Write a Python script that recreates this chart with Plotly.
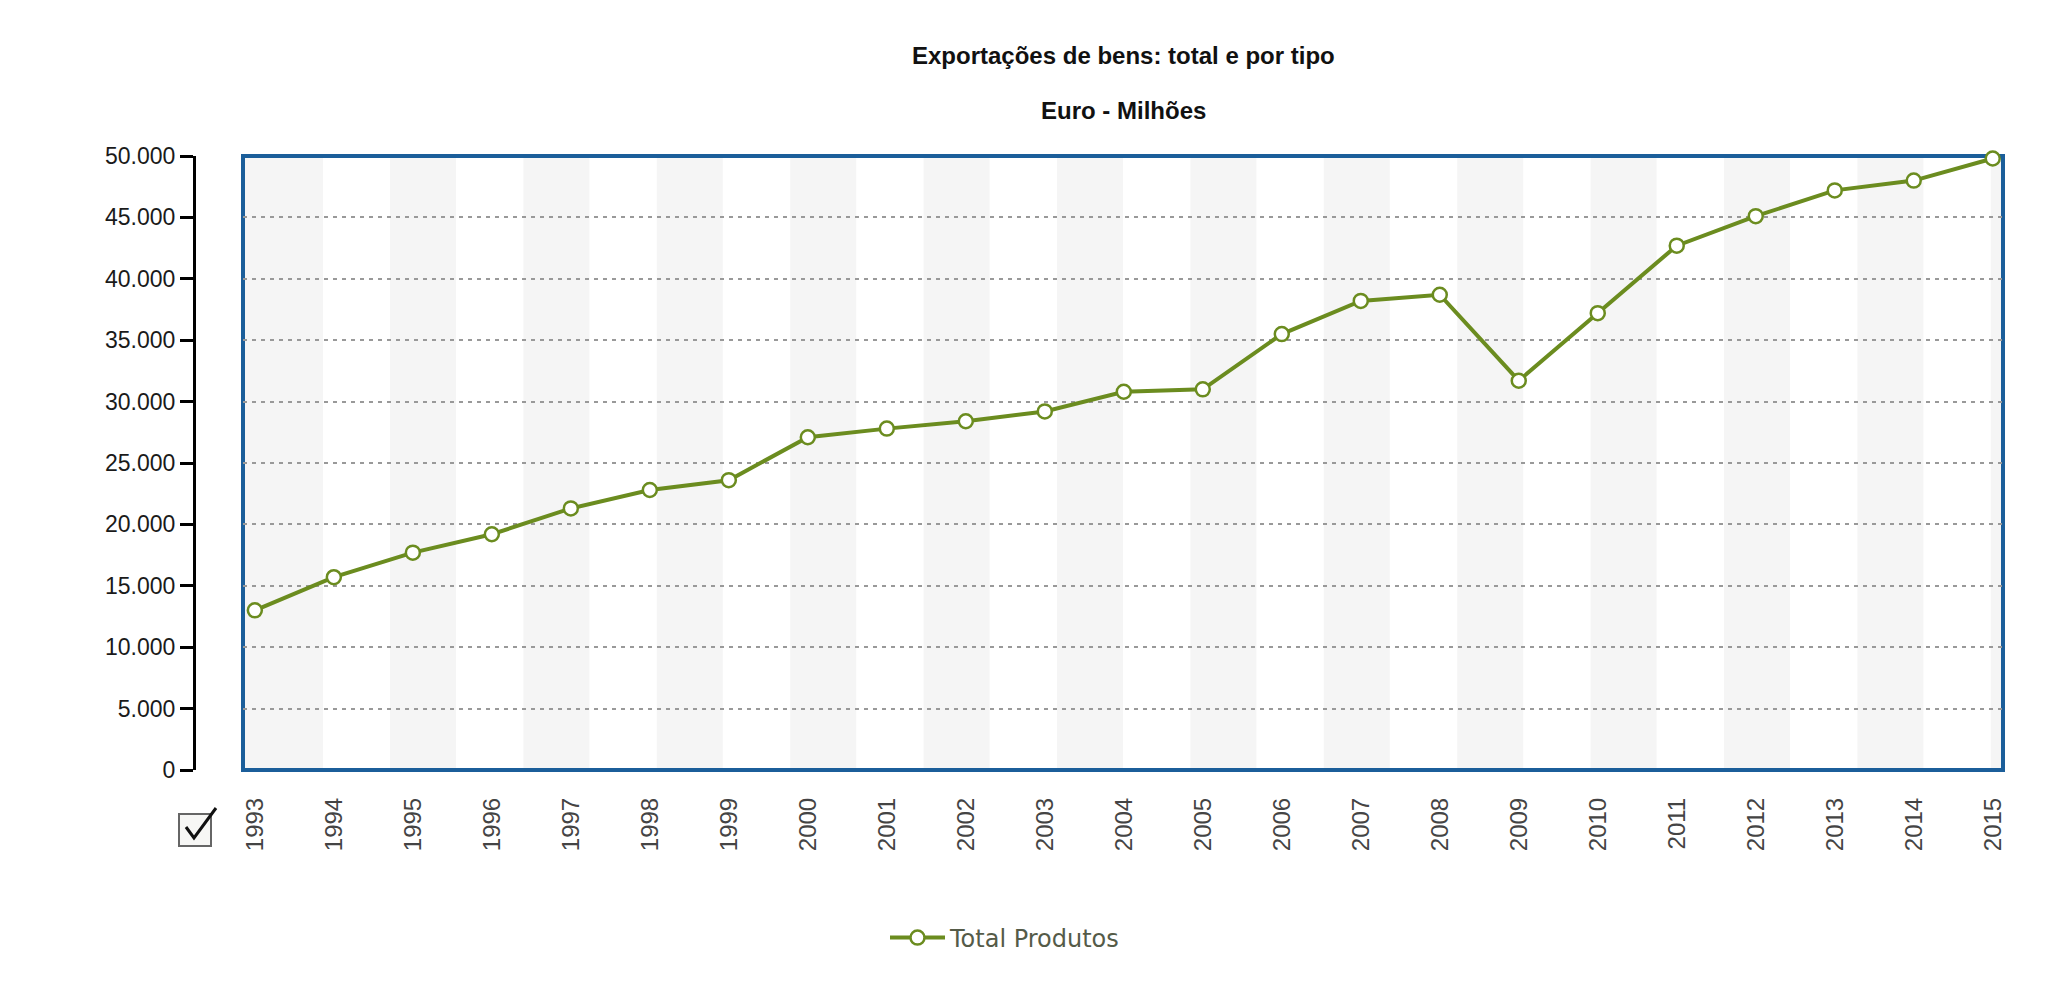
import plotly.graph_objects as go

# ---- data ----
years = list(range(1993, 2016))
total_produtos = [13000, 15700, 17700, 19200, 21300, 22800, 23600, 27100, 27800, 28400,
                  29200, 30800, 31000, 35500, 38200, 38700, 31700, 37200, 42700, 45100,
                  47200, 48000, 49800]
y_ticks = list(range(0, 50001, 5000))
inner_grid = list(range(5000, 50000, 5000))
title_text = "Exportações de bens: total e por tipo"
subtitle_text = "Euro - Milhões"
series_name = "Total Produtos"

# ---- layout geometry (pixels) ----
W, H = 2048, 1001
ML, MR, MT, MB = 100, 45, 156, 231
FRAME_L = 243
PW = W - ML - MR
PH = H - MT - MB

def px_x(px):
    return (px - ML) / PW

def px_y(py):
    return (H - MB - py) / PH

GREEN = "#6b8c1f"
BLUE = "#1b5e9a"
FONT = "Liberation Sans, Arial, sans-serif"

fig = go.Figure()
fig.add_trace(go.Scatter(
    x=years, y=total_produtos, name=series_name, mode="lines+markers",
    line=dict(color=GREEN, width=4),
    marker=dict(size=14, color="white", line=dict(color=GREEN, width=2.5)),
    cliponaxis=False, showlegend=True,
))

shapes = []
# alternating background bands (decorative), in x-domain fraction
band_period = 133.4 / (2003 - FRAME_L)
band_width = 66.0 / (2003 - FRAME_L)
first_band = (390 - FRAME_L) / (2003 - FRAME_L)
shapes.append(dict(type="rect", xref="x domain", yref="y domain", x0=0, x1=(323 - FRAME_L) / (2003 - FRAME_L),
                   y0=0, y1=1, fillcolor="#f5f5f5", line=dict(width=0), layer="below"))
i = 0
while True:
    x0 = first_band + i * band_period
    if x0 >= 1:
        break
    shapes.append(dict(type="rect", xref="x domain", yref="y domain", x0=x0, x1=min(1, x0 + band_width),
                       y0=0, y1=1, fillcolor="#f5f5f5", line=dict(width=0), layer="below"))
    i += 1
# plot frame
shapes.append(dict(type="rect", xref="x domain", yref="y domain", x0=0, x1=1, y0=0, y1=1,
                   line=dict(color=BLUE, width=4), fillcolor="rgba(0,0,0,0)", layer="below"))
# checkbox icon
shapes.append(dict(type="rect", xref="paper", yref="paper",
                   x0=px_x(179), x1=px_x(211), y0=px_y(846), y1=px_y(814),
                   line=dict(color="#666666", width=2), fillcolor="#f7f7f5"))
shapes.append(dict(type="path", xref="paper", yref="paper",
                   path=f"M {px_x(186)} {px_y(827)} L {px_x(194)} {px_y(838)} L {px_x(216)} {px_y(808)}",
                   line=dict(color="#111111", width=3)))

fig.update_layout(
    width=W, height=H,
    margin=dict(l=ML, r=MR, t=MT, b=MB, pad=0),
    paper_bgcolor="white", plot_bgcolor="white",
    separators=",.",
    font=dict(family=FONT, size=23, color="#222222"),
    shapes=shapes,
    xaxis=dict(
        domain=[px_x(FRAME_L), 1], range=[1992.85, 2015.13],
        tickvals=years, ticktext=[str(y) for y in years], tickangle=-90,
        showgrid=False, zeroline=False, showline=False, ticks="",
        tickfont=dict(family=FONT, size=24, color="#444444"),
        ticklabelstandoff=22, fixedrange=True,
    ),
    yaxis=dict(
        anchor="free", position=px_x(194), range=[0, 50000],
        tickvals=y_ticks, tickformat=",d",
        showline=True, linecolor="black", linewidth=3,
        ticks="outside", ticklen=13, tickwidth=3, tickcolor="black",
        tickfont=dict(family=FONT, size=23, color="#1a1a1a"),
        showgrid=False, zeroline=False,
        minor=dict(tickvals=inner_grid, showgrid=True, gridcolor="#999999",
                   gridwidth=2, griddash="4px,5px", ticks=""),
        fixedrange=True,
    ),
    legend=dict(orientation="h", x=px_x(885), xanchor="left", y=px_y(938), yanchor="middle",
                itemwidth=55,
                font=dict(family="DejaVu Sans, Verdana, sans-serif", size=24, color="#555b48"),
                bgcolor="rgba(0,0,0,0)"),
    annotations=[
        dict(text=f"<b>{title_text}</b>", xref="x domain", yref="paper", x=0.5, y=px_y(56),
             showarrow=False, xanchor="center", yanchor="middle",
             font=dict(family=FONT, size=24, color="#111111")),
        dict(text=f"<b>{subtitle_text}</b>", xref="x domain", yref="paper", x=0.5, y=px_y(111),
             showarrow=False, xanchor="center", yanchor="middle",
             font=dict(family=FONT, size=24, color="#111111")),
    ],
)

fig.write_html("out.html", config={"displayModeBar": False},
               post_script="document.body.style.margin='0';document.body.style.overflow='hidden';")
